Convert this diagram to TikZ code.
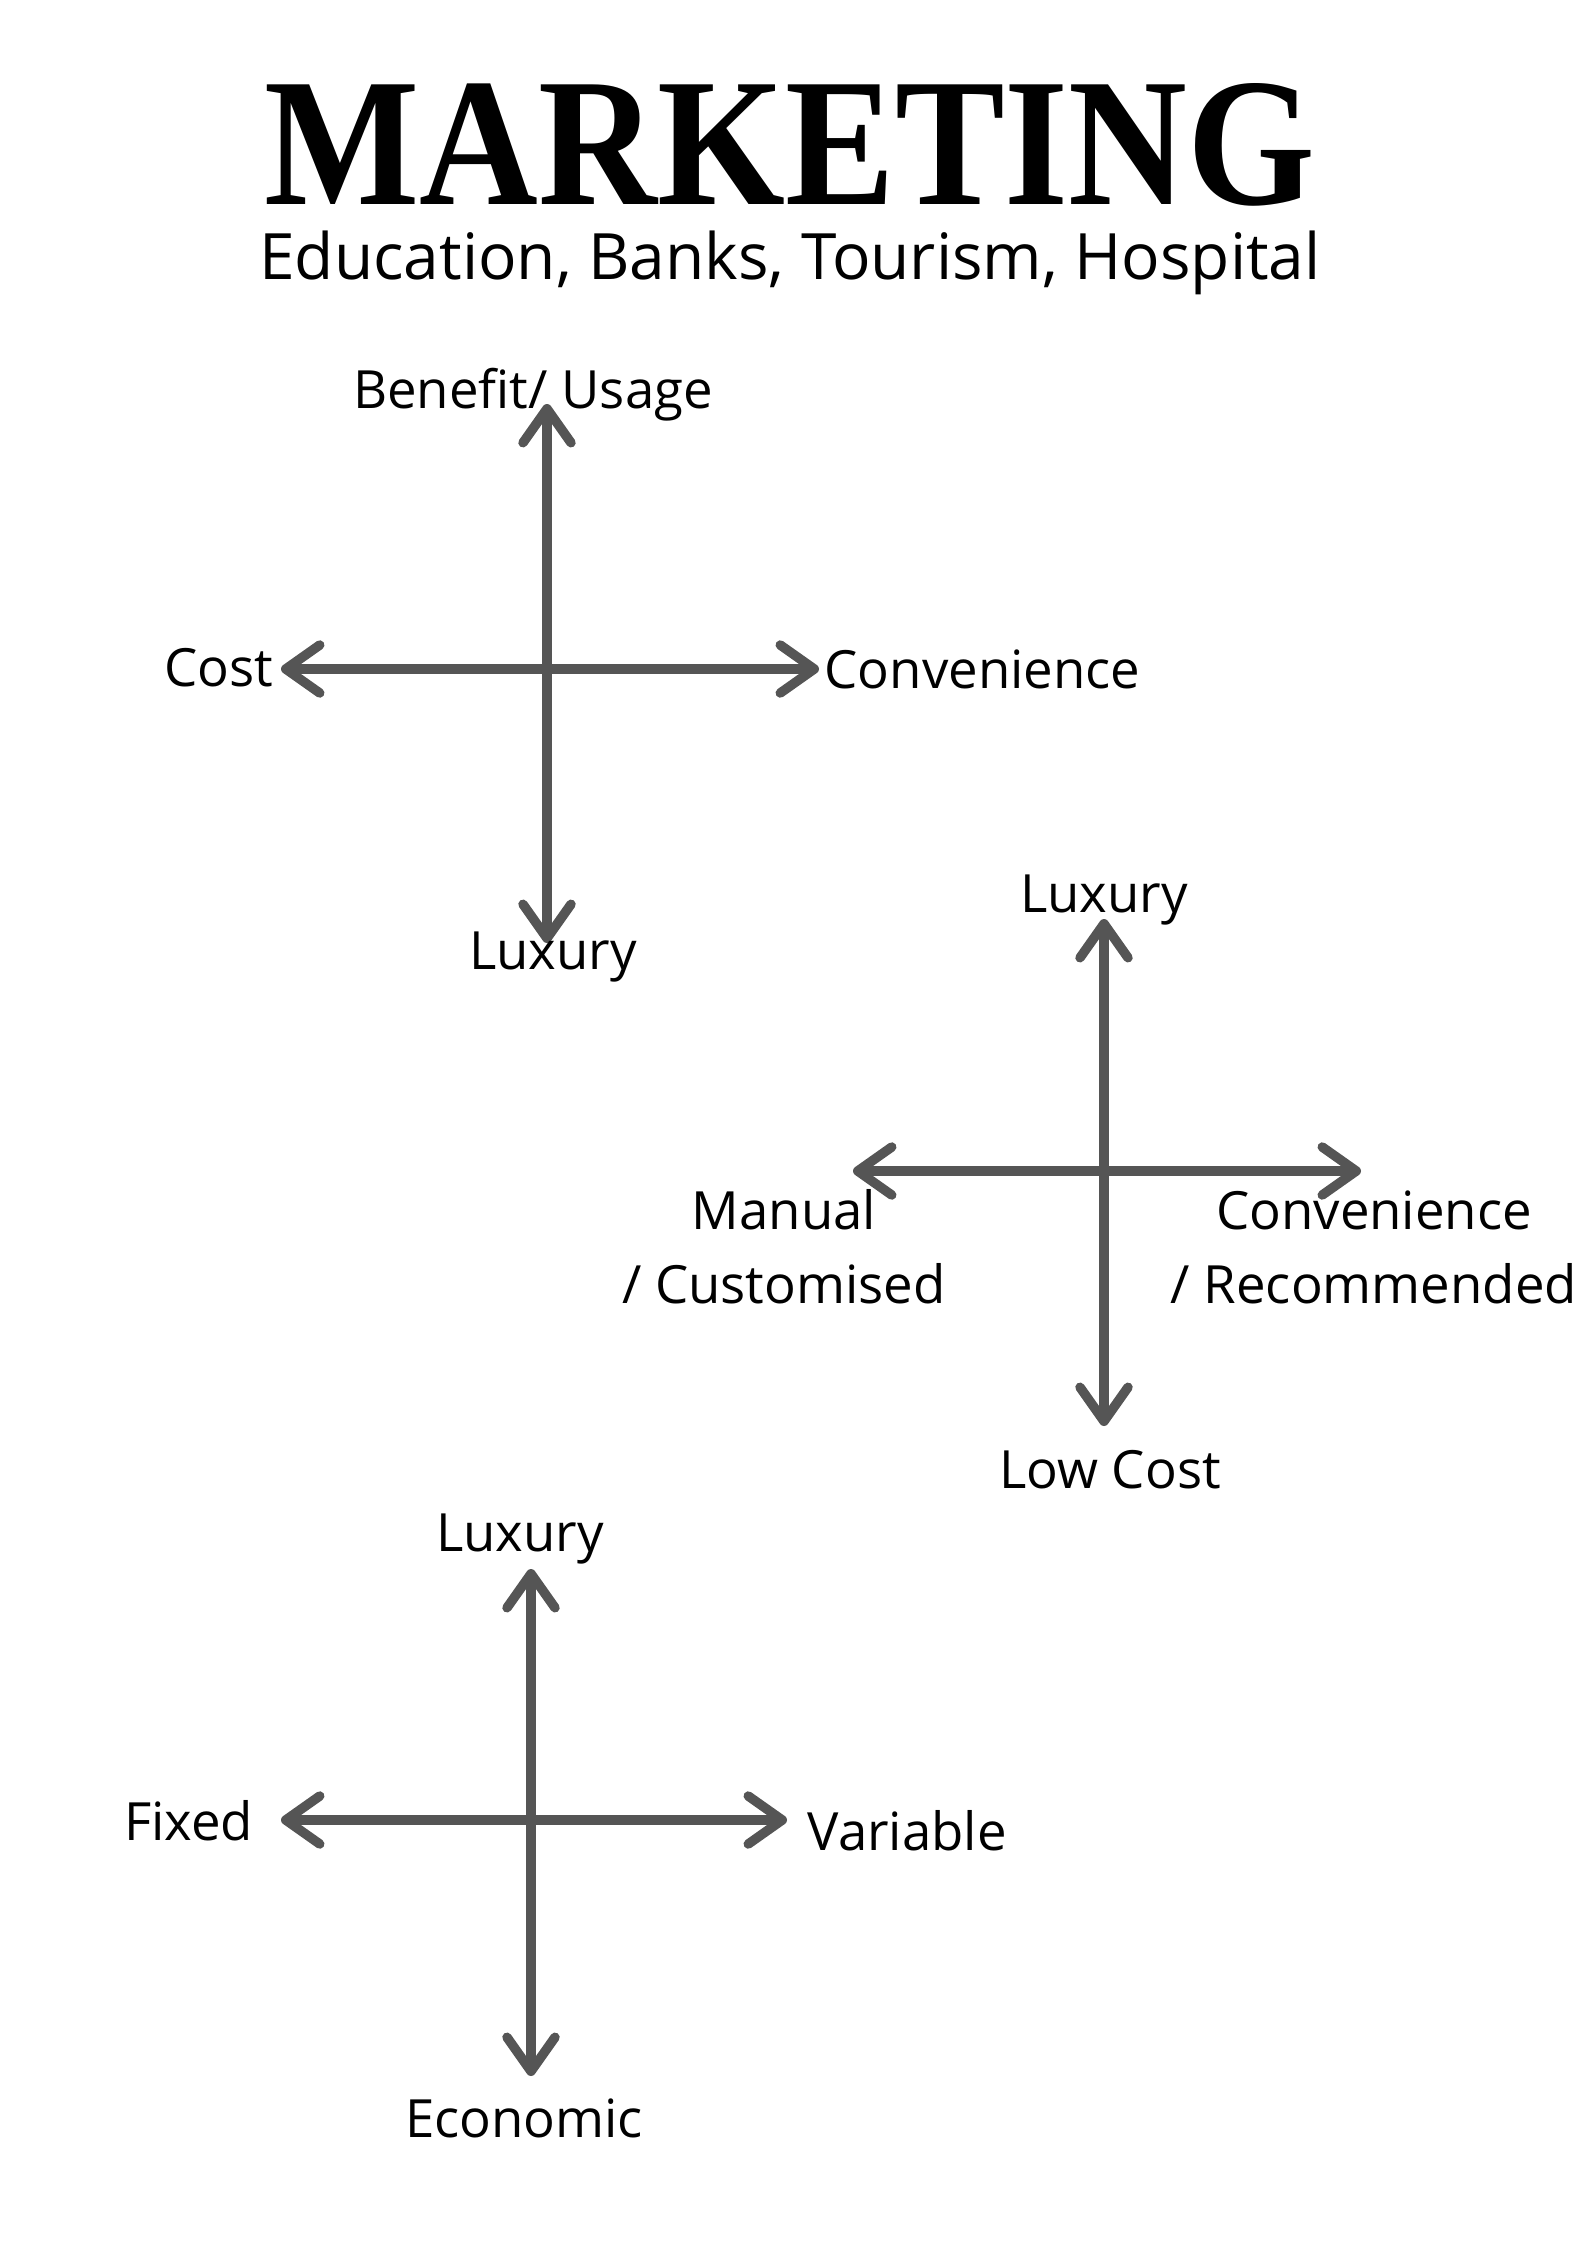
\documentclass[tikz,border=0pt]{standalone}
\usepackage{fontspec}
\setmainfont{Open Sans}
\newfontfamily\titlefont{Liberation Serif}
\usetikzlibrary{arrows.meta}
\definecolor{axisgrey}{HTML}{555555}
\tikzset{axis/.style={axisgrey, line width=2.7pt, {Straight Barb[length=3.4mm,width=4.8mm,line cap=round,line join=round]}-{Straight Barb[length=3.4mm,width=4.8mm,line cap=round,line join=round]}},
  lbl/.style={inner sep=0pt, font=\fontsize{15}{21}\selectfont, align=center}}

\begin{document}
\begin{tikzpicture}
   \useasboundingbox (0,0) rectangle (15.87,-22.45);
   \node[anchor=base, inner sep=0pt, xscale=0.9, font=\titlefont\bfseries\fontsize{52}{52}\selectfont] (title) at (7.90,-2.04) {MARKETING};
   \node[anchor=base, inner sep=0pt, font=\fontsize{18.2}{22}\selectfont] (sub) at (7.90,-2.79) {Education, Banks, Tourism, Hospital};
   \begin{scope}[shift={(5.47,-6.69)}]
    \coordinate (n1) at ( 0.00, 2.65);
    \coordinate (s1) at ( 0.00,-2.74);
    \coordinate (w1) at (-2.66, 0.00);
    \coordinate (e1) at ( 2.72, 0.00);
    \draw[axis] (n1) -- (s1);
    \draw[axis] (w1) -- (e1);
    \node[lbl] (benefit) at (-0.14, 2.74) {Benefit/ Usage};
    \node[lbl, anchor=east] (cost) at (-2.73, 0.01) {Cost};
    \node[lbl, anchor=west] (conv1) at ( 2.77, 0.00) {Convenience};
    \node[lbl] (lux1) at ( 0.06,-2.88) {Luxury};
   \end{scope}
   \begin{scope}[shift={(11.04,-11.71)}]
    \coordinate (n2) at ( 0.00, 2.52);
    \coordinate (s2) at ( 0.00,-2.55);
    \coordinate (w2) at (-2.51, 0.00);
    \coordinate (e2) at ( 2.57, 0.00);
    \draw[axis] (n2) -- (s2);
    \draw[axis] (w2) -- (e2);
    \node[lbl] (lux2) at ( 0.00, 2.71) {Luxury};
    \node[lbl] (manual) at (-3.20,-0.76) {Manual\\/ Customised};
    \node[lbl] (conv2) at ( 2.70,-0.76) {Convenience\\/ Recommended};
    \node[lbl] (lowcost) at ( 0.06,-2.99) {Low Cost};
   \end{scope}
   \begin{scope}[shift={(5.31,-18.20)}]
    \coordinate (n3) at ( 0.00, 2.51);
    \coordinate (s3) at ( 0.00,-2.56);
    \coordinate (w3) at (-2.50, 0.00);
    \coordinate (e3) at ( 2.56, 0.00);
    \draw[axis] (n3) -- (s3);
    \draw[axis] (w3) -- (e3);
    \node[lbl] (lux3) at (-0.11, 2.81) {Luxury};
    \node[lbl, anchor=east] (fixed) at (-2.77,-0.01) {Fixed};
    \node[lbl, anchor=west] (variable) at ( 2.76,-0.11) {Variable};
    \node[lbl] (economic) at (-0.07,-2.98) {Economic};
   \end{scope}
\end{tikzpicture}
\end{document}
